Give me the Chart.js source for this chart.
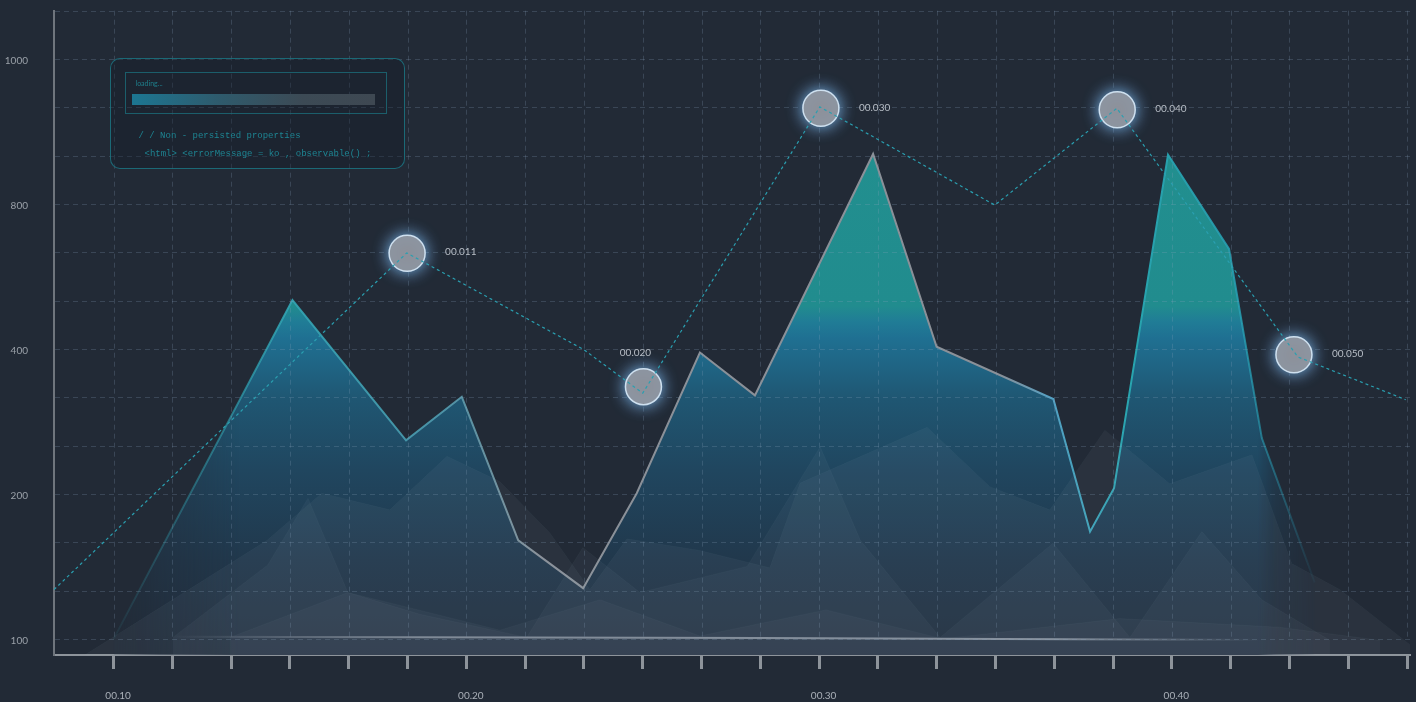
<!DOCTYPE html>
<html>
<head>
<meta charset="utf-8">
<script src="https://cdn.jsdelivr.net/npm/chart.js@4.4.1/dist/chart.umd.min.js"></script>
<style>
  html, body { margin: 0; padding: 0; background: #222a36; overflow: hidden; }
  #wrap { position: relative; width: 1416px; height: 702px; }
  canvas { display: block; }
  .panel { position: absolute; left: 110px; top: 58px; width: 293px; height: 109px;
           border: 1.5px solid rgba(28,118,132,0.85); border-radius: 10px; background: rgba(16,26,36,0.35); }
  .inner { position: absolute; left: 13.5px; top: 12.5px; width: 260px; height: 40px;
           border: 1px solid rgba(28,110,122,0.8); }
  .loading { position: absolute; left: 10px; top: 6px; font: 7px Lato, sans-serif; color: #1f7f8c; }
  .bar { position: absolute; left: 6px; top: 21px; width: 243px; height: 11px;
         background: linear-gradient(90deg, #1c7692 0%, #2e5b6d 35%, #3c4a55 70%, #3e4852 100%); }
  .code { position: absolute; font: 9px 'Liberation Mono', monospace; color: #1e8593; white-space: pre; line-height: 12px; }
</style>
</head>
<body>
<div id="wrap">
  <canvas id="c" width="1416" height="702"></canvas>
  <div class="panel">
    <div class="inner">
      <div class="loading">loading...</div>
      <div class="bar"></div>
    </div>
    <div class="code" style="left:27.5px;top:70.5px">/ / Non - persisted properties</div>
    <div class="code" style="left:33.5px;top:88.5px">&lt;html&gt; &lt;errorMessage = ko , observable() ;</div>
  </div>
</div>
<script>
// ---------- axis labels ----------
const xTickLabels = ['00.10', '00.20', '00.30', '00.40'];   // at x = 10, 20, 30, 40
const xLabelValues = [10, 20, 30, 40];
const yTickLabels = ['100', '200', '400', '800', '1000'];
const yTickValues = [100, 200, 400, 800, 1000];

// ---------- main area series ----------
const areaX = [10, 15.07, 18.29, 19.87, 21.47, 23.31, 24.83, 26.62, 28.18, 31.53, 33.33, 36.64, 37.68, 38.36, 39.89, 41.62, 42.55, 44.05];
const areaY = [100, 535, 274, 334, 168, 135, 201, 395, 336, 869, 406, 331, 174, 208, 868, 676, 277, 139];

// ---------- dotted trend line ----------
const dotX = [8.31, 18.31, 23.33, 25.00, 30.02, 34.98, 38.44, 43.57, 46.63];
const dotY = [134, 665, 399, 339, 934, 797, 932, 389, 330];

// ---------- highlighted points ----------
const circX = [18.32, 25.02, 30.05, 38.45, 43.46];
const circY = [664, 348, 932, 930, 392];
const circLabels = ['00.011', '00.020', '00.030', '00.040', '00.050'];
const circLabelSide = ['right', 'top', 'right', 'right', 'right'];

// ---------- baseline series ----------
const baseX = [11.68, 21.80, 28.32, 35.13, 43.63];
const baseY = [101.4, 101, 100.7, 100, 99.3];

// ---------- background low-poly series ----------
const bg1X = [9.19, 14.35, 15.90, 17.83, 19.45, 20.95, 22.37, 23.50, 24.55, 26.62, 28.60, 29.46, 33.06, 34.84, 36.54, 38.10, 39.94, 42.27, 43.40, 44.76, 46.75];
const bg1Y = [89, 168, 201, 189, 252, 217, 173, 134, 169, 161, 149, 215, 292, 210, 189, 288, 214, 254, 152, 134, 96];
const bg2X = [11.68, 14.37, 15.51, 16.64, 18.68, 21.71, 23.30, 24.92, 27.96, 30.03, 31.17, 33.43, 36.63, 38.81, 40.85, 42.55, 44.48];
const bg2Y = [101, 151, 197, 132, 117, 101, 163, 132, 150, 265, 168, 101, 166, 101, 174, 127, 99];
const bg3X = [13.30, 16.64, 20.95, 23.79, 26.62, 30.20, 33.50, 38.52, 43.06, 45.90];
const bg3Y = [101, 132, 106, 127, 102, 120, 100, 114, 108, 99];

// piecewise axis: labelled values sit on equally spaced positions
const yTickPos = [0, 3, 6, 9, 12];
function toPos(v) {
  const V = yTickValues, P = yTickPos;
  let i = 0;
  if (v >= V[V.length - 1]) i = V.length - 2;
  else if (v > V[0]) { while (v > V[i + 1]) i++; }
  return P[i] + (v - V[i]) / (V[i + 1] - V[i]) * (P[i + 1] - P[i]);
}
const pts = (xs, ys) => xs.map((x, i) => ({ x: x, y: toPos(ys[i]) }));

Chart.defaults.font.family = 'Lato, "Open Sans", sans-serif';
Chart.defaults.font.size = 10;

let mainFill = null, mainStroke = null, baseStroke = null;
function getMainFill(chart) {
  if (mainFill) return mainFill;
  const w = chart.width, h = chart.height;
  const c = document.createElement('canvas'); c.width = w; c.height = h;
  const g = c.getContext('2d');
  const vg = g.createLinearGradient(0, 0, 0, h);
  const s = (y, col) => vg.addColorStop(Math.min(1, Math.max(0, y / h)), col);
  s(0, 'rgb(34,146,144)'); s(306, 'rgb(33,140,142)'); s(322, 'rgb(32,124,150)'); s(338, 'rgb(31,112,146)');
  s(400, 'rgb(31,86,114)'); s(470, 'rgb(32,70,95)'); s(560, 'rgb(33,56,76)'); s(655, 'rgb(35,47,62)');
  g.fillStyle = vg; g.fillRect(0, 0, w, h);
  g.globalCompositeOperation = 'destination-in';
  const hg = g.createLinearGradient(0, 0, w, 0);
  const t = (x, a) => hg.addColorStop(x / w, 'rgba(0,0,0,' + a + ')');
  t(100, 0); t(160, 0.6); t(240, 1); t(1258, 1); t(1275, 0.5); t(1298, 0.25); t(1318, 0);
  g.fillStyle = hg; g.fillRect(0, 0, w, h);
  mainFill = chart.ctx.createPattern(c, 'no-repeat');
  return mainFill;
}
function getMainStroke(chart) {
  if (mainStroke) return mainStroke;
  const w = chart.width;
  const gr = chart.ctx.createLinearGradient(0, 0, w, 0);
  const t = (x, c) => gr.addColorStop(x / w, c);
  t(100, 'rgba(50,160,175,0)'); t(200, 'rgba(50,160,175,0.5)'); t(290, 'rgba(50,165,180,0.9)');
  t(440, 'rgba(80,155,175,0.9)'); t(540, 'rgba(138,144,152,1)'); t(1000, 'rgba(138,144,152,1)');
  t(1050, 'rgba(85,160,195,1)'); t(1130, 'rgba(40,165,175,1)'); t(1240, 'rgba(40,160,180,0.85)'); t(1320, 'rgba(40,150,180,0)');
  mainStroke = gr;
  return gr;
}
function getBaseStroke(chart) {
  if (baseStroke) return baseStroke;
  const w = chart.width;
  const gr = chart.ctx.createLinearGradient(0, 0, w, 0);
  const t = (x, c) => gr.addColorStop(x / w, c);
  t(170, 'rgba(140,150,162,0)'); t(420, 'rgba(140,150,162,0.85)'); t(1050, 'rgba(150,160,172,0.85)'); t(1260, 'rgba(140,150,162,0)');
  baseStroke = gr;
  return gr;
}

const IDX_CIRCLES = 1;
function drawGrid(chart) {
  const { ctx, chartArea, scales } = chart;
  const xs = scales.x, ys = scales.y;
  const y0 = ys.getPixelForValue(0);
  ctx.save();
  ctx.lineWidth = 1;
  ctx.strokeStyle = 'rgba(140,165,190,0.24)';
  ctx.setLineDash([5, 4]);
  xs.ticks.forEach(t => {
    const px = Math.round(xs.getPixelForValue(t.value)) + 0.5;
    ctx.beginPath(); ctx.moveTo(px, chartArea.top); ctx.lineTo(px, y0); ctx.stroke();
  });
  ys.ticks.forEach(t => {
    const py = Math.round(ys.getPixelForValue(t.value)) + 0.5;
    ctx.beginPath(); ctx.moveTo(chartArea.left + 1, py); ctx.lineTo(chartArea.right, py); ctx.stroke();
  });
  ctx.restore();
}

const decoPlugin = {
  id: 'deco',
  beforeDatasetDraw(chart, args) {
    if (args.index === IDX_CIRCLES) {
      drawGrid(chart);
      const ctx = chart.ctx;
      ctx.save();
      ctx.shadowColor = 'rgba(125,185,240,1)';
      ctx.shadowBlur = 16;
    }
  },
  afterDatasetDraw(chart, args) {
    if (args.index === IDX_CIRCLES) chart.ctx.restore();
  },
  afterDatasetsDraw(chart) {
    const ctx = chart.ctx;
    const meta = chart.getDatasetMeta(IDX_CIRCLES);
    ctx.save();
    ctx.font = '10px Lato, "Open Sans", sans-serif';
    ctx.fillStyle = '#b9bfc7';
    ctx.textBaseline = 'middle';
    meta.data.forEach((pt, i) => {
      if (circLabelSide[i] === 'top') {
        ctx.textAlign = 'center';
        ctx.fillText(circLabels[i], pt.x - 8, pt.y - 34);
      } else {
        ctx.textAlign = 'left';
        ctx.fillText(circLabels[i], pt.x + 38, pt.y - 1);
      }
    });
    ctx.restore();
  }
};

const bgStyle = (alpha) => ({
  type: 'line', fill: 'start', tension: 0, pointRadius: 0,
  borderWidth: 1, borderColor: 'rgba(200,210,222,0.03)',
  backgroundColor: 'rgba(170,185,200,' + alpha + ')'
});

const xTicks = [];
for (let k = 0; k <= 22; k++) xTicks.push(10 + k * 10 / 6);

new Chart(document.getElementById('c'), {
  type: 'line',
  data: {
    datasets: [
      { // 0 dotted trend line
        data: pts(dotX, dotY), borderColor: '#2a9fb0', borderWidth: 1.2, borderDash: [3, 3],
        pointRadius: 0, fill: false, tension: 0
      },
      { // 1 highlighted circles
        data: pts(circX, circY), showLine: false, pointRadius: 18, pointBorderWidth: 1.5,
        pointBackgroundColor: '#8e9199', pointBorderColor: 'rgba(212,230,244,0.95)', clip: false
      },
      { // 2 baseline
        data: pts(baseX, baseY), borderWidth: 2, pointRadius: 0, fill: false, tension: 0,
        borderColor: (c) => c.chart.chartArea ? getBaseStroke(c.chart) : 'rgba(140,150,162,0.6)'
      },
      Object.assign({ data: pts(bg3X, bg3Y) }, bgStyle(0.05)),
      Object.assign({ data: pts(bg2X, bg2Y) }, bgStyle(0.055)),
      Object.assign({ data: pts(bg1X, bg1Y) }, bgStyle(0.06)),
      { // main area
        data: pts(areaX, areaY), fill: 'start', tension: 0, pointRadius: 0, borderWidth: 2,
        borderColor: (c) => c.chart.chartArea ? getMainStroke(c.chart) : '#8a9098',
        backgroundColor: (c) => c.chart.chartArea ? getMainFill(c.chart) : 'rgba(31,86,114,0.8)'
      }
    ]
  },
  options: {
    responsive: false,
    animation: false,
    events: [],
    layout: { autoPadding: false, padding: { top: 10.7, right: 6, left: 0, bottom: 0 } },
    plugins: { legend: { display: false }, tooltip: { enabled: false } },
    scales: {
      x: {
        type: 'linear', min: 8.31, max: 46.75,
        afterBuildTicks: (s) => { s.ticks = xTicks.map(v => ({ value: v })); },
        afterFit: (s) => { s.height = 47; s.paddingLeft = 0; s.paddingRight = 0; },
        grid: { display: true, drawOnChartArea: false, drawTicks: true, tickLength: 14, tickWidth: 3, tickColor: '#8e949b' },
        border: { display: true, color: '#8e949b', width: 2 },
        ticks: {
          autoSkip: false, maxRotation: 0, padding: 21, labelOffset: 4.5, color: '#aab0b8',
          font: { size: 10 },
          callback: (v) => {
            const k = xLabelValues.findIndex(x => Math.abs(x - v) < 1e-6);
            return k >= 0 ? xTickLabels[k] : '';
          }
        }
      },
      y: {
        type: 'linear', min: -1 / 3, max: 13,
        afterBuildTicks: (s) => { const t = []; for (let g = 0; g <= 13; g++) t.push({ value: g }); s.ticks = t; },
        afterFit: (s) => { s.width = 54; s.paddingTop = 0; s.paddingBottom = 0; },
        grid: { display: true, drawOnChartArea: false, drawTicks: false },
        border: { display: true, color: '#6f757d', width: 2 },
        ticks: {
          autoSkip: false, padding: 26, labelOffset: 2, color: '#9aa0a8', font: { size: 10 },
          callback: (v) => {
            const k = yTickPos.indexOf(v);
            return k >= 0 ? yTickLabels[k] : '';
          }
        }
      }
    }
  },
  plugins: [decoPlugin]
});
</script>
</body>
</html>
